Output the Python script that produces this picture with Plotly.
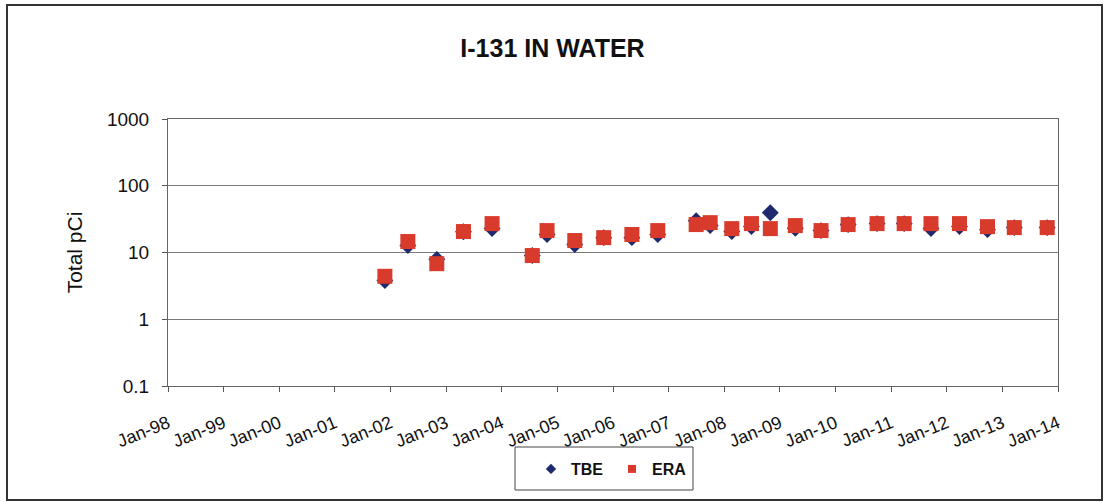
import plotly.graph_objects as go

dates = ["2001-11-25", "2002-04-25", "2002-11-01", "2003-04-25", "2003-10-30",
         "2004-07-20", "2004-10-25", "2005-04-25", "2005-11-01", "2006-05-05",
         "2006-10-22", "2007-07-01", "2007-10-01", "2008-02-20", "2008-06-28",
         "2008-10-30", "2009-04-12", "2009-09-28", "2010-03-25", "2010-10-01",
         "2011-03-28", "2011-09-20", "2012-03-25", "2012-09-25", "2013-03-20",
         "2013-10-22"]
tbe = [3.8, 12.7, 7.9, 20.5, 22.8, 9.0, 18.6, 13.2, 16.7, 16.7,
       18.6, 30.0, 25.3, 20.6, 24.5, 39.5, 23.0, 21.3, 26.2, 27.1,
       27.1, 22.8, 24.5, 22.0, 23.6, 23.6]
era = [4.4, 14.6, 6.8, 20.6, 27.1, 9.0, 21.3, 15.1, 16.7, 18.6,
       21.3, 26.2, 28.0, 22.8, 27.1, 22.8, 25.3, 21.3, 26.2, 27.1,
       27.1, 27.1, 27.1, 24.4, 23.6, 23.6]

tick_dates = [f"{y}-01-01" for y in range(1998, 2015)]
tick_labels = [f"Jan-{str(y)[2:]}" for y in range(1998, 2015)]
y_ticks = [0.1, 1, 10, 100, 1000]
y_labels = ["0.1", "1", "10", "100", "1000"]

tbe_color = "#1f2a6e"
era_color = "#d83a2c"
FONT = "Liberation Sans, Arial, sans-serif"

# plot area in pixels
L, R, T, B = 168, 1058, 119, 386
PW, PH = R - L, B - T


def px(x):
    return (x - L) / PW


def py(y):
    return (B - y) / PH


fig = go.Figure()
fig.add_trace(go.Scatter(x=dates, y=tbe, mode="markers", showlegend=False,
                         marker=dict(symbol="diamond", size=13, color=tbe_color)))
fig.add_trace(go.Scatter(x=dates, y=era, mode="markers", showlegend=False,
                         marker=dict(symbol="square", size=15, color=era_color)))
fig.add_trace(go.Scatter(x=[None], y=[None], mode="markers", name="<b>TBE</b>",
                         marker=dict(symbol="diamond", size=8, color=tbe_color)))
fig.add_trace(go.Scatter(x=[None], y=[None], mode="markers", name="<b>ERA</b>",
                         marker=dict(symbol="square", size=8, color=era_color)))

fig.update_layout(
    width=1105, height=502,
    margin=dict(l=L, r=1105 - R, t=T, b=502 - B),
    paper_bgcolor="white", plot_bgcolor="white",
    font=dict(family=FONT, color="#111111"),
    title=dict(text="<b>I-131 IN WATER</b>", x=0.5, xanchor="center",
               y=1 - 48 / 502, yanchor="middle", font=dict(size=25)),
    legend=dict(orientation="h", x=px(531), xanchor="left",
                y=py(469), yanchor="middle",
                borderwidth=0, bgcolor="rgba(0,0,0,0)",
                font=dict(size=16, family=FONT),
                itemwidth=30, entrywidth=36, tracegroupgap=0),
    showlegend=True,
)
fig.update_xaxes(
    type="date", range=["1998-01-01", "2014-01-01"],
    tickmode="array", tickvals=tick_dates, ticktext=tick_labels,
    tickangle=-22, tickfont=dict(size=18), ticklabelstandoff=14,
    ticks="outside", ticklen=5, tickcolor="#555555",
    showline=True, linecolor="#666666", linewidth=1, mirror=True,
    showgrid=False, zeroline=False,
)
fig.update_yaxes(
    type="log", range=[-1, 3],
    tickmode="array", tickvals=y_ticks, ticktext=y_labels,
    tickfont=dict(size=19), ticks="outside", ticklen=5, tickcolor="#555555",
    ticklabelstandoff=9,
    showline=True, linecolor="#666666", linewidth=1, mirror=True,
    showgrid=True, gridcolor="#7a7a7a", gridwidth=1,
    title=dict(text="Total pCi", font=dict(size=21), standoff=18),
)
# outer chart border
fig.add_shape(type="rect", xref="paper", yref="paper",
              x0=px(7), x1=px(1102), y0=py(500), y1=py(5),
              line=dict(color="#333333", width=2), fillcolor="rgba(0,0,0,0)", layer="below")
# legend box
fig.add_shape(type="rect", xref="paper", yref="paper",
              x0=px(515), x1=px(693), y0=py(490), y1=py(447),
              line=dict(color="#444444", width=1), fillcolor="white", layer="below")

fig.write_html("out.html", config={"displayModeBar": False},
               post_script="document.body.style.margin='0';document.body.style.overflow='hidden';")
